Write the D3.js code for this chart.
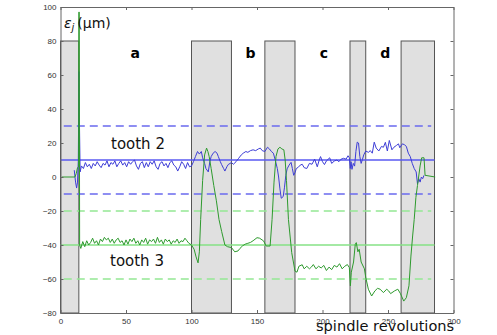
<!DOCTYPE html>
<html><head><meta charset="utf-8">
<script src="https://cdn.jsdelivr.net/npm/d3@7"></script>
<style>
html,body{margin:0;padding:0;background:#fff;}
svg{display:block;}
</style></head>
<body>
<svg id="chart" width="497" height="335"></svg>
<script>
// ---- data ----
const xTicks = [0, 50, 100, 150, 200, 250, 300];
const yTicks = [-80, -60, -40, -20, 0, 20, 40, 60, 80, 100];
const regionStart = [0, 100, 156, 221, 260];
const regionEnd   = [14, 130.5, 179, 233, 285.5];
const regionTop = 80;
const regionLabels = ["a", "b", "c", "d"];
const regionLabelRev = [57, 145, 201, 248];
const tooth2Mean = 10, tooth2Limits = [30, -10];
const tooth3Mean = -40, tooth3Limits = [-20, -60];
const tooth2Rev = [10.5,11.5,12.3,13,13.6,14.1,14.5,15,16,17.5,19,20.5,22,23.5,25,26.5,28,29.5,31,32.5,34,35.5,37,38.5,40,41.5,43,44.5,46,47.5,49,50.5,52,53.5,55,56.5,58,59.5,61,62.5,64,65.5,67,68.5,70,71.5,73,74.5,76,77.5,79,80.5,82,83.5,85,86.5,88,89.5,91,92.5,94,95.5,97,98.5,100,101.5,103,104.6,106,107.5,108.5,110,111,112.8,114,115,116.5,118,119.5,120.5,122,123,124.5,125.5,127,128,130.5,132,134,136,138,139.5,141.5,143,145,147,149,151,152.5,154,156,158,159.5,161,162.5,164,165.5,166.5,167.5,168.5,170,171,172,173,174.5,176,177,178,179,180,181.5,183,184.5,186,188,190,192,194,196,197.5,198.5,200,201.5,203,205.5,207,209,211,212.5,214,216,218,219.5,220.5,221.2,221.8,222.5,223.5,224.5,225.5,226.5,227.5,228.5,229.5,230.5,231.5,233,235,236.5,238,239.5,241,243,245,246.5,248,249.5,251,253,254.5,256.5,258,259,261,262.5,264,265.5,267,268.5,270,271.5,272.5,273.5,274.5,275.5,276.5,277.5];
const tooth2Err = [4,-3,-6.5,-3,10,62,30,3,6.5,5,8.5,6,7.5,5,8,6.5,9,7,5.5,8,7,9.5,6,8.5,7.5,9.5,6,8,9.5,7,8.5,6,9,7.5,9,10,6.5,4.5,8,9,5.5,8.5,6,9,7.5,9.5,6,4.5,8,9,6.5,8,5.5,8.5,9.5,7,6,3.5,6,9,7.5,5,8.5,6,6.5,9,12,15,13.5,15,11.3,8,5,3,9,12,14,15,14,12,9,7.3,5,3.5,6,7.3,8.5,7.5,9,11,13,14,15,14.5,15.5,16,15.5,16.5,17,15.5,15,17.5,16.5,15,14,9.8,5,0,-7,-12.5,-11.5,-6,1,4.8,7,8.6,5,1,2.5,5,5.7,7,7.5,5.5,5,8,7.5,10.5,6,10,12,9,7.3,9.5,11.3,8,9.4,10,9,10.4,11,10.5,12.5,11.3,5,9,4.5,8,6.4,15,20.5,20,12,8,10.4,13,15.3,14.5,15.5,14,20.5,17,15.3,18,17.5,20.4,15.3,21.5,16,17.5,18.6,19.5,17.2,19.5,19,18,14,12,8,5,3,-4,-1,-3,0,-1,1];
const tooth3Rev = [1,11,12,13,13.8,14,14.3,14.6,15.5,17,18.5,20,21.5,23,24.5,26,27.5,29,30.5,32,33.5,35,36.5,38,39.5,41,42.5,44,45.5,47,48.5,50,51.5,53,54.5,56,57.5,59,60.5,62,63.5,65,66.5,68,69.5,71,72.5,74,75.5,77,78.5,80,81.5,83,84.5,86,87.5,89,90.5,92,93.5,95,96.5,98,100,102,103.5,105,106,107,108.5,110,111.5,112.5,113.5,115,117,119,121,123,125.5,127.5,130.5,133,135.5,137,139,141,143,145,147,150,152,155,157,160,161.5,163,164.5,166,167.5,169,170.5,171.5,172.5,174,176.5,179,180.5,182,184.5,186,188,190,191.5,193,195,197,199,201,203,205,207,209,211,213,215,217,219,220.5,221.3,222,223.7,225,225.8,227,228,229.5,232,233,235,237.5,240,242,244,246.5,249,250.5,252,255,257.5,259.5,262,264,266,267.5,268.8,270,271.3,272.5,274.5,275.7,277.5,278.3,286];
const tooth3Err = [0,0,2,5.5,6,97,97,-40,-42,-38,-41,-37.5,-40,-38.5,-36,-39,-37.5,-40,-36.5,-38,-35.5,-37,-36,-38.5,-36.5,-39,-37,-36,-38.5,-37.5,-40,-37,-39.5,-36.5,-38,-36,-39,-37.5,-40,-37,-38.5,-36,-39.5,-37,-38,-36.5,-39,-35.5,-38.5,-37,-39.5,-36.5,-38,-37,-39.5,-37.5,-38.5,-36.5,-39,-37.5,-38,-36,-37.5,-39,-40,-42.5,-47,-50.5,-44,-25,-2,13,17,15,12,5,-5,-14,-25,-32,-40,-41,-41.5,-44,-43.5,-42,-40.5,-39.5,-39,-38.5,-37.5,-35.7,-36,-37.6,-40.6,-40.6,-25,-3,12,16.5,17.5,16.5,16,10,-2,-25,-44.5,-55.3,-56,-52.5,-51.6,-54,-52.5,-54,-53,-51.5,-54,-52.5,-53.5,-52,-55,-53,-54.5,-52,-53,-51,-54,-52.5,-51.5,-53.3,-64,-56,-50,-39.6,-38.6,-44,-42.5,-50,-54,-59,-66,-70,-67,-65.5,-66,-68,-66,-67,-68.6,-67,-66,-68.6,-73,-71,-64,-46.5,-34.7,-25,-12,-5,6.5,11.3,11.3,1,0];

// ---- layout ----
const svg = d3.select("#chart");
const L = 60.5, R = 453.5, T = 7, B = 313;
const x = d3.scaleLinear().domain([0, 300]).range([L, R]);
const y = d3.scaleLinear().domain([-80, 100]).range([B, T]);

// shaded regions
svg.append("g").selectAll("rect").data(regionStart).join("rect")
  .attr("x", (d) => x(d))
  .attr("y", y(regionTop))
  .attr("width", (d, i) => x(regionEnd[i]) - x(d))
  .attr("height", y(-80) - y(regionTop))
  .attr("fill", "#e0e0e0").attr("stroke", "#555").attr("stroke-width", 1);

// reference lines
function hline(val, color, dash, x0, x1, w) {
  svg.append("line").attr("x1", x(x0)).attr("x2", x(x1))
    .attr("y1", y(val)).attr("y2", y(val))
    .attr("stroke", color).attr("stroke-width", w)
    .attr("stroke-dasharray", dash || null);
}
hline(tooth2Mean, "#5a5af2", null, 0, 285.5, 1.3);
tooth2Limits.forEach(v => hline(v, "#6a6aee", "8,5", 2.5, 283, 1.3));
hline(tooth3Mean, "#86e286", null, 0, 285.5, 1.6);
tooth3Limits.forEach(v => hline(v, "#94e894", "8,5", 2.5, 283, 1.5));

const line = d3.line().x(d => x(d[0])).y(d => y(d[1]));
svg.append("path").datum(tooth2Rev.map((r, i) => [r, tooth2Err[i]]))
  .attr("d", line).attr("fill", "none").attr("stroke", "#3d3dd6").attr("stroke-width", 1);
svg.append("path").datum(tooth3Rev.map((r, i) => [r, tooth3Err[i]]))
  .attr("d", line).attr("fill", "none").attr("stroke", "#2e9a2e").attr("stroke-width", 1);

// axes (MATLAB-like box with inward ticks)
const axColor = "#666";
const gB = svg.append("g").attr("transform", `translate(0,${B})`)
  .call(d3.axisBottom(x).tickValues(xTicks).tickSize(-3).tickSizeOuter(0).tickPadding(5));
const gT = svg.append("g").attr("transform", `translate(0,${T})`)
  .call(d3.axisTop(x).tickValues(xTicks).tickSize(-3).tickSizeOuter(0).tickFormat(""));
const gL = svg.append("g").attr("transform", `translate(${L},0)`)
  .call(d3.axisLeft(y).tickValues(yTicks).tickSize(-3).tickSizeOuter(0).tickPadding(4));
const gR = svg.append("g").attr("transform", `translate(${R},0)`)
  .call(d3.axisRight(y).tickValues(yTicks).tickSize(-3).tickSizeOuter(0).tickFormat(""));
[gB, gT, gL, gR].forEach(g => {
  g.selectAll("path,line").attr("stroke", axColor);
  g.selectAll("text").attr("fill", "#333").style("font-family", "Liberation Sans, Arial, sans-serif").style("font-size", "8px");
});

// text
const font = "DejaVu Sans, Verdana, sans-serif";
svg.append("g").selectAll("text").data(regionLabels).join("text")
  .attr("x", (d, i) => x(regionLabelRev[i])).attr("y", 57.5)
  .attr("text-anchor", "middle")
  .style("font-family", font).style("font-weight", "bold").style("font-size", "14px")
  .attr("fill", "#000").text(d => d);

const yl = svg.append("text").attr("x", 64).attr("y", 28)
  .style("font-family", font).style("font-size", "14px").attr("fill", "#111");
yl.append("tspan").style("font-style", "italic").text("ε");
yl.append("tspan").attr("dy", 3).style("font-size", "10px").style("font-style", "italic").text("j");
yl.append("tspan").attr("dy", -3).attr("dx", 3).text("(μm)");

svg.append("text").attr("x", 111).attr("y", 149)
  .style("font-family", font).style("font-size", "15px").attr("fill", "#111").text("tooth 2");
svg.append("text").attr("x", 110).attr("y", 265.5)
  .style("font-family", font).style("font-size", "15px").attr("fill", "#111").text("tooth 3");
svg.append("text").attr("x", 316).attr("y", 331)
  .style("font-family", font).style("font-size", "14.6px").attr("fill", "#111").text("spindle revolutions");
</script>
</body></html>
